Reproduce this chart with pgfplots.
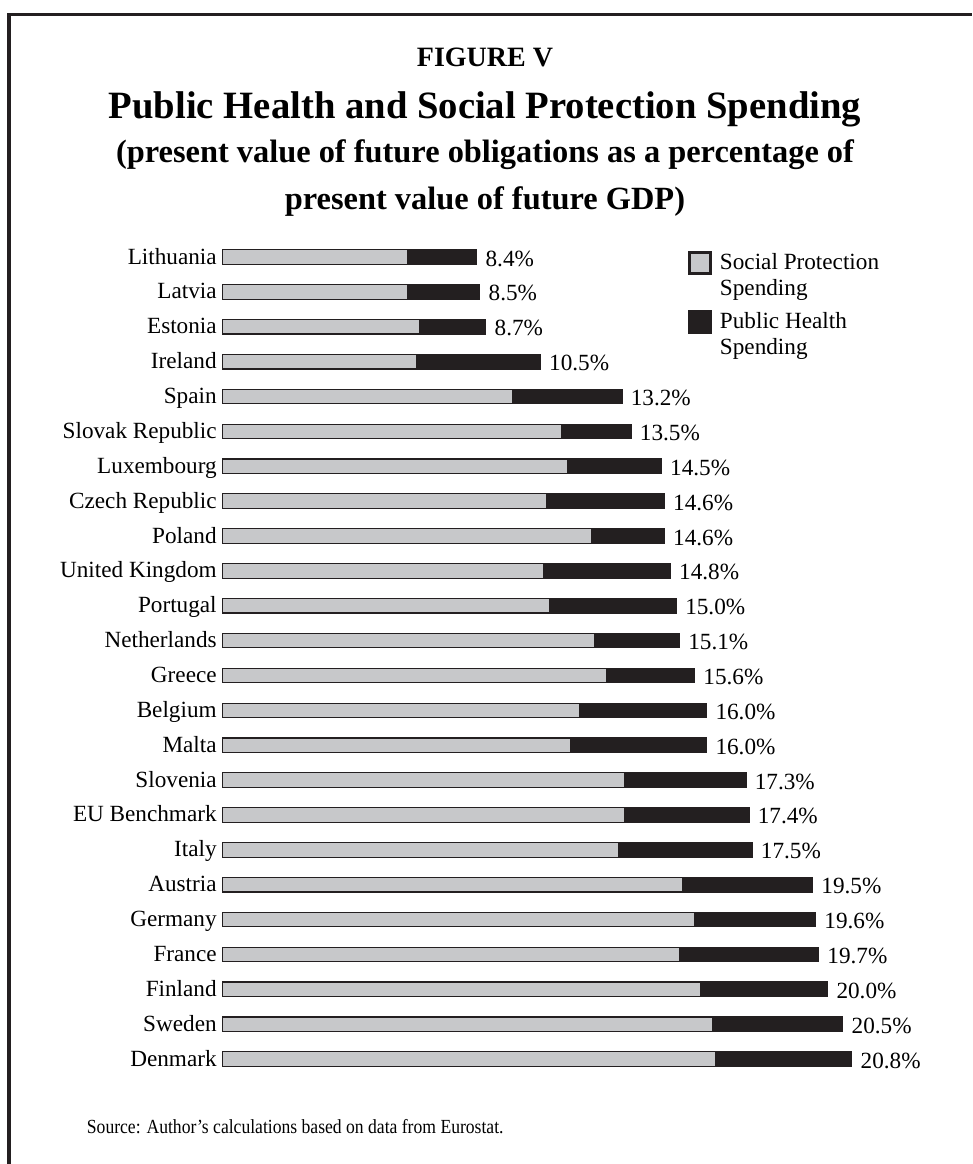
\documentclass[border=0pt]{standalone}
\usepackage{fontspec}
\setmainfont{Liberation Serif}
\newfontfamily\srcfont[FakeStretch=0.88]{Liberation Serif}
\usepackage{pgfplots}
\usepackage{pgfplotstable}
\pgfplotsset{compat=1.18}
\definecolor{barblack}{RGB}{35,31,32}
\definecolor{bargray}{RGB}{199,200,202}
\newcommand\lab{\fontsize{17.4}{19.5}\selectfont}
\newcommand\legA{\begin{tabular}[t]{@{}l@{}}Social Protection\\Spending\end{tabular}}
\newcommand\legB{\begin{tabular}[t]{@{}l@{}}Public Health\\Spending\end{tabular}}
\pgfplotstableread{
idx social health total
0 16.3 4.5 20.8
1 16.2 4.3 20.5
2 15.8 4.2 20.0
3 15.1 4.6 19.7
4 15.6 4.0 19.6
5 15.2 4.3 19.5
6 13.1 4.4 17.5
7 13.3 4.1 17.4
8 13.3 4.0 17.3
9 11.5 4.5 16.0
10 11.8 4.2 16.0
11 12.7 2.9 15.6
12 12.3 2.8 15.1
13 10.8 4.2 15.0
14 10.6 4.2 14.8
15 12.2 2.4 14.6
16 10.7 3.9 14.6
17 11.4 3.1 14.5
18 11.2 2.3 13.5
19 9.6 3.6 13.2
20 6.4 4.1 10.5
21 6.5 2.2 8.7
22 6.1 2.4 8.5
23 6.1 2.3 8.4
}\datatable
\begin{document}
\begin{tikzpicture}
\path[use as bounding box] (0,0) rectangle (729pt,873pt);
% frame
\draw[barblack, line width=2.5pt] (6.75pt,0pt) -- (6.75pt,862.3pt) -- (729pt,862.3pt);
% titles
\node[anchor=base, font=\fontsize{21}{24}\selectfont\bfseries] at (363.75pt,822.75pt) {FIGURE V};
\node[anchor=base, font=\fontsize{29}{33}\selectfont\bfseries] at (363.75pt,783.75pt) {Public Health and Social Protection Spending};
\node[anchor=base, font=\fontsize{24.3}{28}\selectfont\bfseries] at (363.75pt,751pt) {(present value of future obligations as a percentage of};
\node[anchor=base, font=\fontsize{24.3}{28}\selectfont\bfseries] at (363.75pt,715.75pt) {present value of future GDP)};
\node[anchor=base west, inner sep=0pt, font=\fontsize{15}{18}\selectfont\srcfont] at (65pt,23.25pt) {Source: Author’s calculations based on data from Eurostat.};
\begin{axis}[
  at={(167pt,65.6pt)}, anchor=south west,
  scale only axis, width=544.5pt, height=627.7pt,
  xmin=0, xmax=24, ymin=-0.5, ymax=23.5,
  xbar stacked, bar width=10.9pt,
  axis line style={draw=none},
  tick style={draw=none},
  xtick=\empty,
  ytick={0,...,23},
  yticklabels={Denmark,Sweden,Finland,France,Germany,Austria,Italy,EU Benchmark,Slovenia,Malta,Belgium,Greece,Netherlands,Portugal,United Kingdom,Poland,Czech Republic,Luxembourg,Slovak Republic,Spain,Ireland,Estonia,Latvia,Lithuania},
  yticklabel style={font=\lab, inner sep=0pt, xshift=-4.3pt, text height=10.5pt, text depth=0pt},
  /pgf/number format/assume math mode=true,
  clip=false,
  legend cell align=left,
  legend style={draw=none, fill=none, at={(0.6409,0.9866)}, anchor=north west,
    inner sep=0pt, outer sep=0pt, row sep=26.1pt, column sep=6pt,
    nodes={inner sep=0pt, font=\lab}},
  legend image code/.code={\draw[#1, line width=2.25pt] (1.125pt,-8.775pt) rectangle (16.875pt,6.975pt);},
]
\addplot[fill=bargray, draw=barblack, line width=0.9pt] table[x=social, y=idx] {\datatable};
\addlegendentry{\legA}
\addplot[fill=barblack, draw=barblack, line width=0.9pt,
  point meta=explicit,
  visualization depends on={rawx \as \hw},
  nodes near coords={\pgfmathprintnumber[fixed,fixed zerofill,precision=1]{\pgfplotspointmeta}\%},
  every node near coord/.append style={anchor=west, inner sep=0pt, xshift={6.2pt+11.34375pt*\hw}, font=\lab, text=black, text height=13.5pt, text depth=0pt}
] table[x=health, y=idx, meta=total] {\datatable};
\addlegendentry{\legB}
\end{axis}
\end{tikzpicture}
\end{document}
